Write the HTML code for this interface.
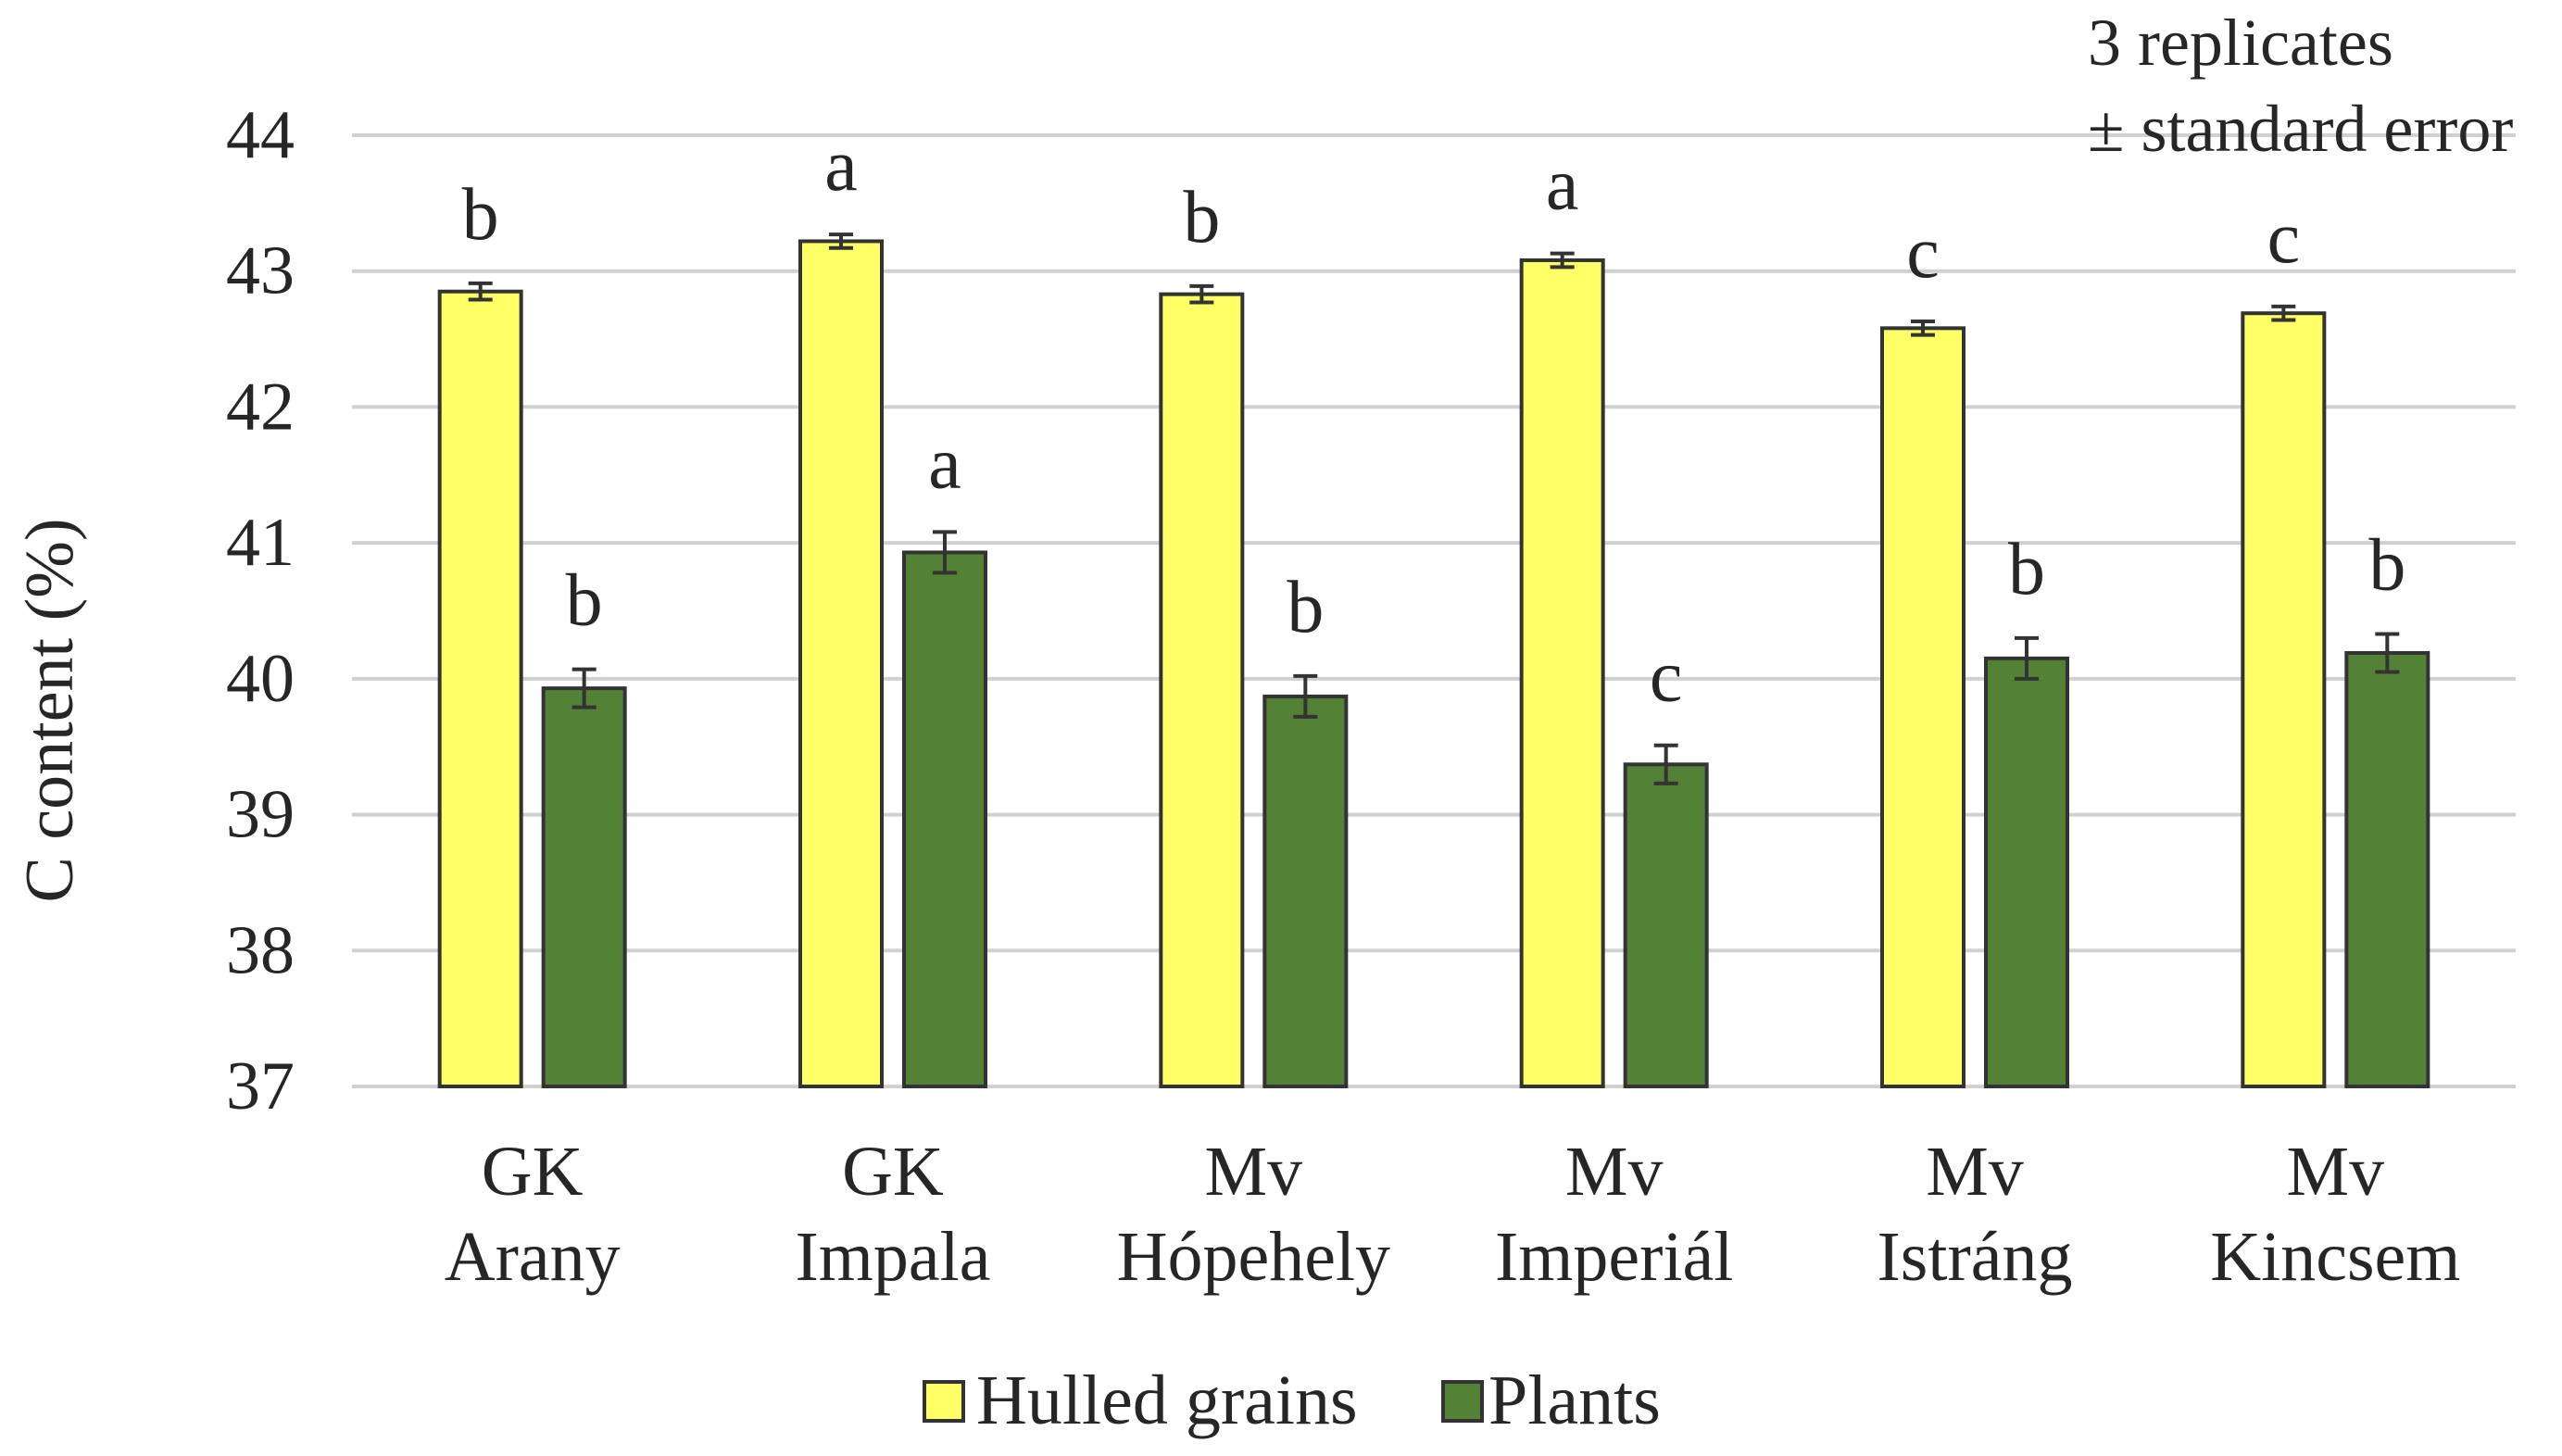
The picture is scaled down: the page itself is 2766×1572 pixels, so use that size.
<!DOCTYPE html>
<html><head><meta charset="utf-8"><style>
html,body{margin:0;padding:0;background:#fff}
svg{display:block}
svg text{font-family:"Liberation Serif","Times New Roman","DejaVu Serif",serif !important;fill:#262626}
</style></head><body>
<svg id="chart" width="2766" height="1572" viewBox="0 0 2766 1572" font-family="Liberation Serif, Times New Roman, serif">
<g id="grid"></g>
<g id="yticks"></g>
<g id="bars"></g>
<g id="xlabels"></g>
<text transform="translate(78,767) rotate(-90)" text-anchor="middle" font-size="74">C content (%)</text>
<text x="2254" y="70" font-size="72">3 replicates</text>
<text x="2254" y="163" font-size="72">± standard error</text>
<g>
<rect x="998" y="1492" width="42" height="42" fill="#FFFF66" stroke="#333" stroke-width="4"/>
<text x="1054" y="1537" font-size="76">Hulled grains</text>
<rect x="1558" y="1492" width="42" height="42" fill="#538135" stroke="#333" stroke-width="4"/>
<text x="1607" y="1537" font-size="76">Plants</text>
</g>
</svg>
<script>
const categoriesLine1=["GK","GK","Mv","Mv","Mv","Mv"];
const categoriesLine2=["Arany","Impala","Hópehely","Imperiál","Istráng","Kincsem"];
const hulledValues=[42.85,43.22,42.83,43.08,42.58,42.69];
const hulledErrors=[0.06,0.05,0.06,0.05,0.05,0.05];
const hulledLetters=["b","a","b","a","c","c"];
const plantValues=[39.93,40.93,39.87,39.37,40.15,40.19];
const plantErrors=[0.14,0.15,0.15,0.14,0.15,0.14];
const plantLetters=["b","a","b","c","b","b"];
const yTicks=[37,38,39,40,41,42,43,44];

const NS="http://www.w3.org/2000/svg";
const X0=380,X1=2716,Y37=1173,Y44=146;
const yMin=37,yMax=44;
function y(v){return Y37-(v-yMin)/(yMax-yMin)*(Y37-Y44);}
const gw=(X1-X0)/categoriesLine2.length;
function xc(i){return X0+gw*(i+0.5);}
function mk(tag,attrs,parent){const e=document.createElementNS(NS,tag);for(const k in attrs)e.setAttribute(k,attrs[k]);parent.appendChild(e);return e;}
const grid=document.getElementById('grid'),yt=document.getElementById('yticks'),bars=document.getElementById('bars'),xl=document.getElementById('xlabels');
yTicks.forEach(t=>{
  const l=mk('line',{x1:X0,x2:X1,y1:y(t),y2:y(t),stroke:'#d0d0d0','stroke-width':4},grid);
  
  
  const tx=mk('text',{x:318,y:y(t)+24,'text-anchor':'end','font-size':74},yt);
  tx.textContent=t;
  
  
});
const BW=88,OFF=56;
function drawBar(i,v,err,letter,fill,name){
  const cx=xc(i)+(name==='hulled'?-OFF:OFF);
  const r=mk('rect',{x:cx-BW/2,y:y(v),width:BW,height:Y37-y(v),fill:fill,stroke:'#333','stroke-width':4},bars);
  
  
  const g=mk('g',{stroke:'#333','stroke-width':4},bars);
  
  
  mk('line',{x1:cx,x2:cx,y1:y(v+err),y2:y(v-err)},g);
  mk('line',{x1:cx-13,x2:cx+13,y1:y(v+err),y2:y(v+err)},g);
  mk('line',{x1:cx-13,x2:cx+13,y1:y(v-err),y2:y(v-err)},g);
  const t=mk('text',{x:cx,y:y(v+err)-48,'text-anchor':'middle','font-size':80},bars);
  t.textContent=letter;
  
  
}
categoriesLine2.forEach((c,i)=>{
  drawBar(i,hulledValues[i],hulledErrors[i],hulledLetters[i],'#FFFF66','hulled');
  drawBar(i,plantValues[i],plantErrors[i],plantLetters[i],'#538135','plants');
  const t1=mk('text',{x:xc(i),y:1290,'text-anchor':'middle','font-size':76},xl);
  t1.textContent=categoriesLine1[i];
  
  
  const t2=mk('text',{x:xc(i),y:1382,'text-anchor':'middle','font-size':76},xl);
  t2.textContent=c;
  
  
});
</script>
</body></html>
